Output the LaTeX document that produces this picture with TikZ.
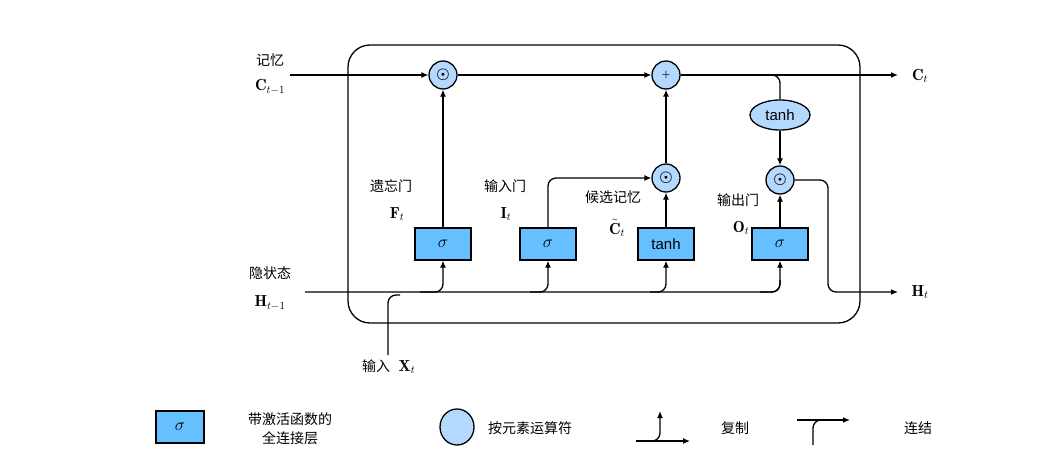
\documentclass[tikz,border=0pt]{standalone}
\usepackage{fontspec}
\usepackage{amsmath}
\newfontfamily\cjk{Noto Sans CJK SC}
\newfontfamily\sansf{Liberation Sans}
\usetikzlibrary{shapes.geometric,arrows.meta}
\definecolor{boxc}{RGB}{102,191,255}
\definecolor{circc}{RGB}{179,217,255}
\newcommand{\myodot}{\scalebox{1.5}{$\boldsymbol{\odot}$}}
\begin{document}
\begin{tikzpicture}[x=1pt,y=-1pt,line width=1.3pt,
  lay/.style={draw,fill=boxc,minimum width=56pt,minimum height=32pt,inner sep=0pt,font=\fontsize{16}{18}\selectfont},
  op/.style={draw,fill=circc,circle,minimum size=28pt,inner sep=0pt},
  el/.style={draw,fill=circc,ellipse,minimum width=60pt,minimum height=30pt,inner sep=0pt,font=\sansf\fontsize{15}{17}\selectfont},
  lbl/.style={font=\cjk\fontsize{14}{16}\selectfont,inner sep=1pt},
  mlbl/.style={font=\fontsize{16}{18}\selectfont,inner sep=1pt},
  arr/.style={-{Latex[length=7pt,width=6pt]}},
  ln/.style={},
  every node/.append style={text=black}]
\useasboundingbox[fill=white] (0,0) rectangle (1044,474);
\node[draw,rounded corners=22pt,minimum width=512pt,minimum height=278pt] (cell) at (604,184) {};
% operators
\node[op] (m1) at (443,75) {\myodot};
\node[op] (pl) at (666,75) {$\boldsymbol{+}$};
\node[op] (m2) at (666,178) {\myodot};
\node[op] (m3) at (780,180) {\myodot};
\node[el] (th) at (780,115) {tanh};
% layers
\node[lay] (fg) at (443,244) {$\sigma$};
\node[lay] (ig) at (548,244) {$\sigma$};
\node[lay,font=\sansf\fontsize{15}{17}\selectfont] (cg) at (666,244) {tanh};
\node[lay] (og) at (780,244) {$\sigma$};
% labels
\node[lbl] (l1) at (270,60) {记忆};
\node[mlbl] (l2) at (270,87) {$\mathbf{C}_{t-1}$};
\node[lbl] (l3) at (270,273) {隐状态};
\node[mlbl] (l4) at (270,303) {$\mathbf{H}_{t-1}$};
\node[lbl] (l5) at (391,186) {遗忘门};
\node[mlbl] (l6) at (397,214) {$\mathbf{F}_t$};
\node[lbl] (l7) at (505,186) {输入门};
\node[mlbl] (l8) at (506,214) {$\mathbf{I}_t$};
\node[lbl] (l9) at (613,197) {候选记忆};
\node[mlbl] (l10) at (617,228) {$\tilde{\mathbf{C}}_t$};
\node[lbl] (l11) at (738,200) {输出门};
\node[mlbl] (l12) at (741,228) {$\mathbf{O}_t$};
\node[lbl] (l13) at (376,366) {输入};
\node[mlbl] (l13b) at (407,367) {$\mathbf{X}_t$};
\node[mlbl] (l14) at (920,76) {$\mathbf{C}_t$};
\node[mlbl] (l15) at (920,292) {$\mathbf{H}_t$};
% coordinates
\coordinate (cin) at (290,75);
\coordinate (cout) at (898,75);
\coordinate (hin) at (305,292);
\coordinate (hout) at (898,292);
\coordinate (xin) at (388,355);
% memory line
\draw[arr] (cin) -- (m1);
\draw[arr] (m1) -- (pl);
\draw[arr] (pl) -- (cout);
\draw[ln,rounded corners=8pt] (pl.east) -- (780,75) -- (th.north);
\draw[arr] (th) -- (m3);
\draw[arr] (fg) -- (m1);
\draw[arr] (m2) -- (pl);
\draw[arr] (cg) -- (m2);
\draw[arr,rounded corners=8pt] (ig.north) -- (548,178) -- (m2.west);
\draw[arr] (og) -- (m3);
\draw[arr,rounded corners=8pt] (m3.east) -- (828,180) -- (828,292) -- (hout);
% hidden line
\draw[ln,rounded corners=8pt] (hin) -- (780,292) -- (780,280);
\draw[ln,rounded corners=8pt] (xin) -- (388,295) -- (400,295);
\draw[arr,rounded corners=8pt] (420,292) -- (443,292) -- (fg.south);
\draw[arr,rounded corners=8pt] (530,292) -- (548,292) -- (ig.south);
\draw[arr,rounded corners=8pt] (650,292) -- (666,292) -- (cg.south);
\draw[arr,rounded corners=8pt] (760,292) -- (780,292) -- (og.south);
% legend
\node[lay,minimum width=48pt] (lg1) at (180,427) {$\sigma$};
\node[lbl,align=center] (lt1) at (290,429) {带激活函数的\\[3pt]全连接层};
\node[op,minimum width=34pt,minimum height=36pt,ellipse] (lg2) at (457,427) {};
\node[lbl] (lt2) at (530,428) {按元素运算符};
\coordinate (ca) at (636,441);
\coordinate (cb) at (690,441);
\coordinate (cc) at (660,411);
\draw[arr] (ca) -- (cb);
\draw[arr,rounded corners=8pt] (650,441) -- (660,441) -- (cc);
\node[lbl] (lt3) at (735,428) {复制};
\coordinate (da) at (797,420);
\coordinate (db) at (850,420);
\coordinate (dc) at (813,445);
\draw[arr] (da) -- (db);
\draw[ln,rounded corners=8pt] (dc) -- (813,420) -- (825,420);
\node[lbl] (lt4) at (918,428) {连结};
\end{tikzpicture}
\end{document}
